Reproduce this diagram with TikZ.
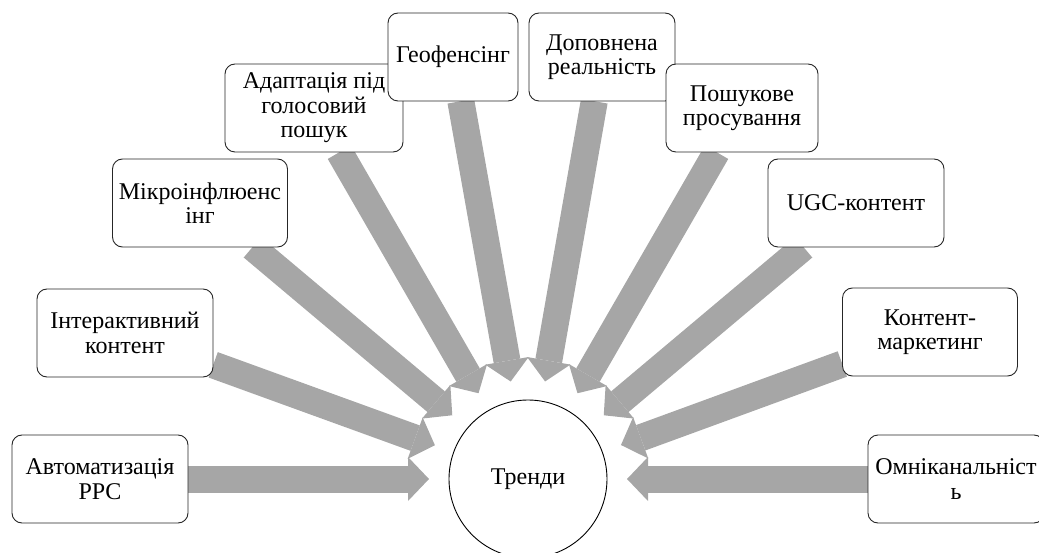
\documentclass[tikz,border=0pt]{standalone}
\usepackage{fontspec}
\setmainfont{Liberation Serif}
\usetikzlibrary{calc}
\definecolor{arrowgray}{RGB}{166,166,166}
\tikzset{
  box/.style={draw=black!85, line width=0.9pt, rounded corners=10pt, fill=white,
    minimum height=88pt, inner sep=0pt, align=center,
    font=\fontsize{24pt}{24.5pt}\selectfont},
  hub/.style={draw=black, line width=0.9pt, circle, minimum size=158pt, inner sep=0pt,
    font=\fontsize{24pt}{24.5pt}\selectfont},
  anchorbox/.style={minimum height=88pt, inner sep=0pt},
}
\newcommand\trendarrow[1]{%
  \coordinate (tip#1) at ($(c.center)!99pt!(#1.center)$);
  \coordinate (base#1) at ($(c.center)!120pt!(#1.center)$);
  \draw[arrowgray, line width=27pt, line cap=butt] (#1) -- (base#1);
  \fill[arrowgray] ($(base#1)!22pt!90:(c.center)$) -- (tip#1) -- ($(base#1)!22pt!-90:(c.center)$) -- cycle;
}
\begin{document}
\begin{tikzpicture}[x=1pt,y=-1pt]
\useasboundingbox (0,0) rectangle (1039,553);
\clip (0,0) rectangle (1039,553);
\node[hub] (c) at (528,479) {Тренди};
\path
  node[anchorbox, minimum width=176pt] (a1) at (100,479) {}
  node[anchorbox, minimum width=176pt] (a2) at (125,333) {}
  node[anchorbox, minimum width=175pt] (a3) at (200,203) {}
  node[anchorbox, minimum width=178pt] (a4) at (314,108) {}
  node[anchorbox, minimum width=130pt] (a5) at (453,57) {}
  node[anchorbox, minimum width=146pt] (a6) at (602,57) {}
  node[anchorbox, minimum width=152pt] (a7) at (742,108) {}
  node[anchorbox, minimum width=176pt] (a8) at (856,203) {}
  node[anchorbox, minimum width=175pt] (a9) at (930,332) {}
  node[anchorbox, minimum width=176pt] (a10) at (956,479) {};
\trendarrow{a1}
\trendarrow{a2}
\trendarrow{a3}
\trendarrow{a4}
\trendarrow{a5}
\trendarrow{a6}
\trendarrow{a7}
\trendarrow{a8}
\trendarrow{a9}
\trendarrow{a10}
\node[box, minimum width=176pt] (b1) at (a1) {Автоматизація\\PPC};
\node[box, minimum width=176pt] (b2) at (a2) {Інтерактивний\\контент};
\node[box, minimum width=175pt] (b3) at (a3) {Мікроінфлюенс\\інг};
\node[box, minimum width=178pt] (b4) at (a4) {Адаптація під\\голосовий\\пошук};
\node[box, minimum width=130pt] (b5) at (a5) {Геофенсінг};
\node[box, minimum width=146pt] (b6) at (a6) {Доповнена\\реальність};
\node[box, minimum width=152pt] (b7) at (a7) {Пошукове\\просування};
\node[box, minimum width=176pt] (b8) at (a8) {UGC-контент};
\node[box, minimum width=175pt] (b9) at (a9) {Контент-\\маркетинг};
\node[box, minimum width=176pt] (b10) at (a10) {Омніканальніст\\ь};
\end{tikzpicture}
\end{document}
